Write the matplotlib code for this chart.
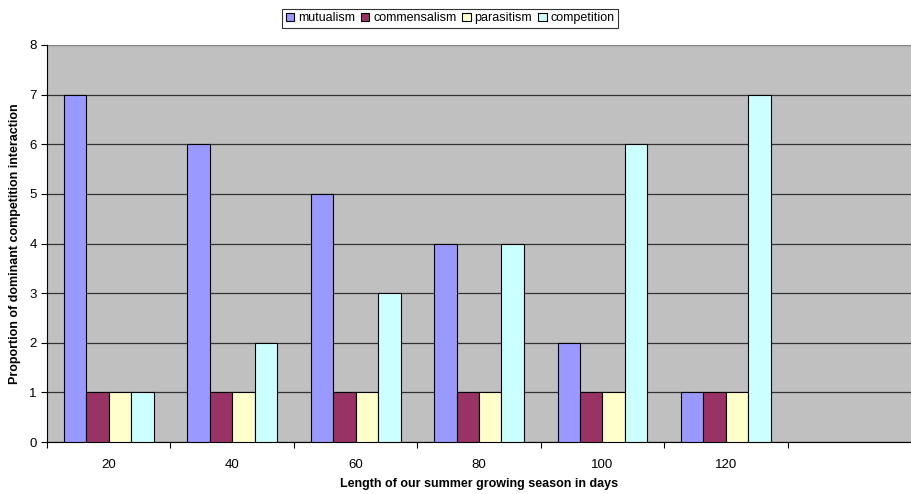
import matplotlib.pyplot as plt
import numpy as np

plt.rcParams['font.family'] = ['Liberation Sans', 'DejaVu Sans']

# season length categories, plus one empty slot on the right
seasons = ['20', '40', '60', '80', '100', '120']
mutualism = [7, 6, 5, 4, 2, 1]
commensalism = [1, 1, 1, 1, 1, 1]
parasitism = [1, 1, 1, 1, 1, 1]
competition = [1, 2, 3, 4, 6, 7]

series = [('mutualism', mutualism, '#9999FF'),
          ('commensalism', commensalism, '#993366'),
          ('parasitism', parasitism, '#FFFFCC'),
          ('competition', competition, '#CCFFFF')]

fig = plt.figure(figsize=(9.11, 4.94), dpi=100)
ax = fig.add_axes([0.0516, 0.105, 0.9484, 0.804])
ax.set_facecolor('#C0C0C0')

x = np.arange(len(seasons))
width = 0.182
for i, (name, vals, col) in enumerate(series):
    ax.bar(x + (i - 1.5) * width, vals, width, color=col, edgecolor='black',
           linewidth=0.8, label=name, zorder=3)

ax.set_ylim(0, 8)
ax.set_xlim(-0.5, 6.5)
ax.set_yticks(range(0, 9))
ax.yaxis.grid(True, color='#333333', linewidth=0.9, zorder=0)
ax.set_axisbelow(True)

# category labels sit between boundary ticks
ax.set_xticks(np.arange(-0.5, 6.0, 1.0))
ax.set_xticklabels([])
ax.set_xticks(x, minor=True)
ax.set_xticklabels(seasons, minor=True)
ax.tick_params(axis='x', which='minor', length=0, pad=12, labelsize=9.5)
ax.tick_params(axis='x', which='major', length=4, direction='out')
ax.tick_params(axis='y', length=4, direction='out', labelsize=9.5)

for s in ['top', 'right']:
    ax.spines[s].set_visible(False)
ax.spines['left'].set_color('black')
ax.spines['bottom'].set_color('black')
ax.axhline(8, color='#999999', linewidth=1.2, zorder=1)

ax.set_xlabel('Length of our summer growing season in days', fontweight='bold',
              fontsize=9, labelpad=5)
ax.set_ylabel('Proportion of dominant competition interaction', fontweight='bold',
              fontsize=9, labelpad=6)

leg = fig.legend(loc='upper center', bbox_to_anchor=(0.494, 0.995), ncol=4,
                 fontsize=9, frameon=True, fancybox=False, edgecolor='black',
                 handlelength=0.7, handleheight=0.7, handletextpad=0.3,
                 columnspacing=0.45, borderpad=0.3)
leg.get_frame().set_linewidth(0.8)

fig.savefig('out.png', dpi=100)
